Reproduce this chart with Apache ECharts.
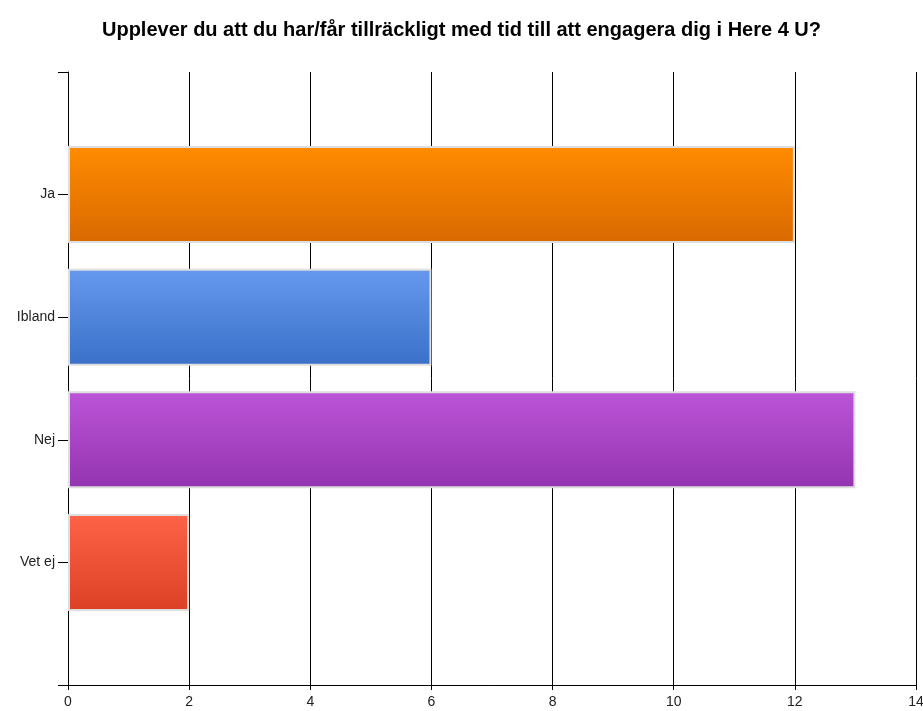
<!DOCTYPE html>
<html>
<head>
<meta charset="utf-8">
<script src="https://cdn.jsdelivr.net/npm/echarts@6/dist/echarts.min.js"></script>
<style>
    html, body { margin: 0; padding: 0; background: #fff; }
    #chart { width: 923px; height: 711px; }
</style>
</head>
<body>
<div id="chart"></div>
<script>
    // svar (tomma kategorier ger plats ovanför och under staplarna)
    var categories = ['', 'Ja', 'Ibland', 'Nej', 'Vet ej', ''];
    var values = [null, 12, 6, 13, 2, null];
    var topColors = ['#fff', '#ff8c00', '#6699ee', '#bb55d8', '#ff6347', '#fff'];
    var bottomColors = ['#fff', '#d96900', '#3a70c8', '#9434b0', '#dc4025', '#fff'];
    var xTicks = [0, 2, 4, 6, 8, 10, 12, 14];

    var myChart = echarts.init(document.getElementById('chart'));

    var barData = values.map(function (v, i) {
        return {
            value: v,
            itemStyle: {
                color: new echarts.graphic.LinearGradient(0, 0, 0, 1, [
                    {offset: 0, color: topColors[i]},
                    {offset: 1, color: bottomColors[i]}
                ])
            }
        };
    });

    var option = {
        animation: false,
        textStyle: { fontFamily: 'Liberation Sans, Arial, sans-serif' },
        title: {
            text: 'Upplever du att du har/får tillräckligt med tid till att engagera dig i Here 4 U?',
            left: 'center',
            top: 15,
            textStyle: {
                fontSize: 20,
                fontWeight: 'bold',
                color: '#000',
                fontFamily: 'Liberation Sans, Arial, sans-serif'
            }
        },
        grid: {
            left: 68,
            right: 7,
            top: 72,
            bottom: 26,
            outerBoundsMode: 'none'
        },
        xAxis: {
            type: 'value',
            min: xTicks[0],
            max: xTicks[xTicks.length - 1],
            interval: 2,
            axisLine: { show: true, lineStyle: { color: '#000', width: 1 } },
            axisTick: { show: true, length: 5, lineStyle: { color: '#000' } },
            axisLabel: { color: '#222', fontSize: 14, margin: 10 },
            splitLine: { show: true, lineStyle: { color: '#000', width: 1 } }
        },
        yAxis: {
            type: 'category',
            inverse: true,
            boundaryGap: false,
            data: categories,
            axisLine: { show: true, lineStyle: { color: '#000', width: 1 } },
            axisTick: { show: true, length: 10, lineStyle: { color: '#000' } },
            axisLabel: { color: '#222', fontSize: 14, margin: 13 },
            splitLine: { show: false }
        },
        series: [{
            type: 'bar',
            barWidth: 97,
            data: barData,
            itemStyle: {
                borderColor: '#dedede',
                borderWidth: 2
            }
        }]
    };
    myChart.setOption(option);
</script>
</body>
</html>
